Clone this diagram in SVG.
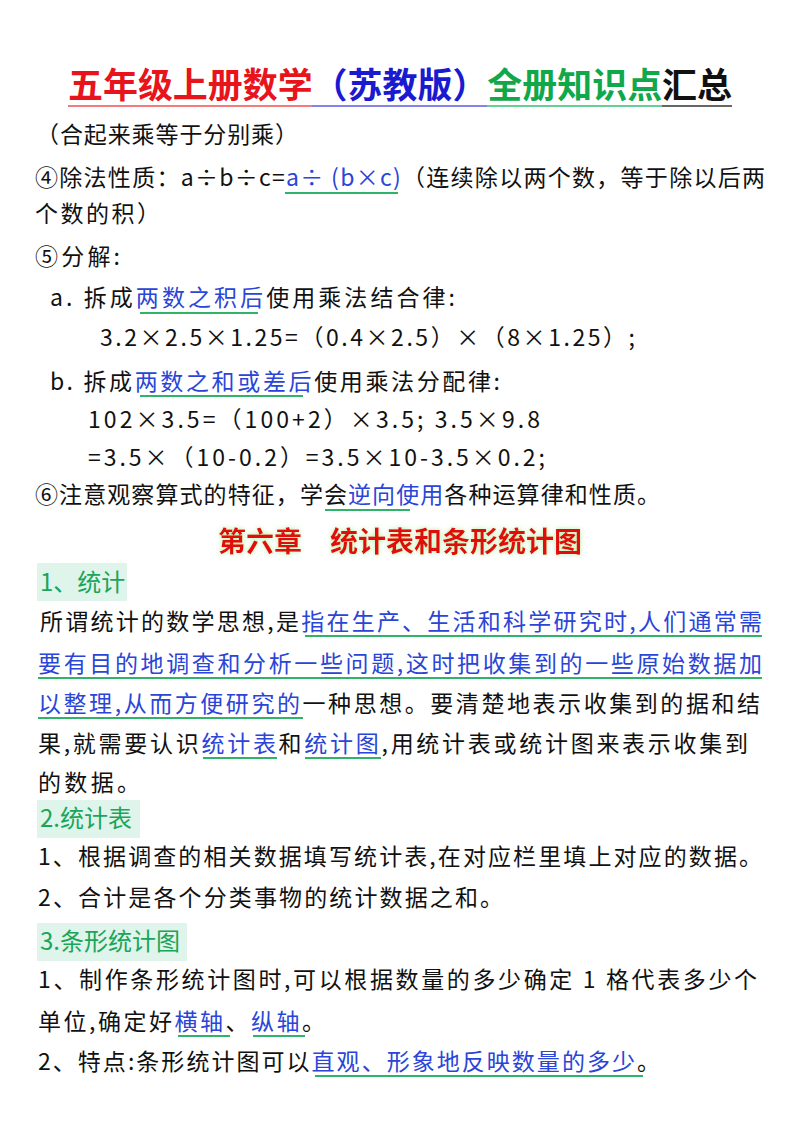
<svg xmlns="http://www.w3.org/2000/svg" width="800" height="1132" viewBox="0 0 800 1132">
<defs>
<style>
text{font-family:"Noto Sans CJK SC","Liberation Serif",serif;font-size:23px;fill:#111}
.b{fill:#2a45d8}
.u{stroke:#2fb36a;stroke-width:2}
.h{fill:#1aa55a;font-size:24px}
.hb{fill:#dff4ea}
.t{font-family:"Noto Sans CJK SC",sans-serif;font-weight:bold;font-size:35px}
</style>
<filter id="glow" x="-10%" y="-30%" width="120%" height="160%">
<feGaussianBlur in="SourceAlpha" stdDeviation="2.5" result="bl"/>
<feFlood flood-color="#9be88f" flood-opacity="0.8"/>
<feComposite in2="bl" operator="in" result="g"/>
<feMerge><feMergeNode in="g"/><feMergeNode in="SourceGraphic"/></feMerge>
</filter>
</defs>
<rect width="800" height="1132" fill="#fff"/>
<g id="title">
<text class="t" x="68" y="98" textLength="664" lengthAdjust="spacingAndGlyphs"><tspan fill="#e8141c">五年级上册数学</tspan><tspan fill="#1a1ad0">（苏教版）</tspan><tspan fill="#10a84a">全册知识点</tspan><tspan fill="#111">汇总</tspan></text>
<line x1="68" y1="106" x2="312" y2="106" stroke="#f05050" stroke-width="1.5"/>
<line x1="312" y1="106" x2="487" y2="106" stroke="#5a5ae0" stroke-width="1.5"/>
<line x1="487" y1="106" x2="662" y2="106" stroke="#30c070" stroke-width="1.5"/>
<line x1="662" y1="106" x2="732" y2="106" stroke="#333" stroke-width="1.5"/>
</g>
<g id="body1">
<text x="36" y="143" textLength="262">（合起来乘等于分别乘）</text>
<text x="35" y="186" textLength="730">④除法性质：a÷b÷c=<tspan class="b">a÷ (b×c)</tspan>（连续除以两个数，等于除以后两</text>
<line class="u" x1="285" y1="193" x2="398" y2="193"/>
<text x="35" y="222" textLength="125">个数的积）</text>
<text x="35" y="265" textLength="85">⑤分解:</text>
<text x="50" y="306" textLength="405">a. 拆成<tspan class="b">两数之积后</tspan>使用乘法结合律:</text>
<line class="u" x1="140" y1="313" x2="258" y2="313"/>
<text x="100" y="346" textLength="535">3.2×2.5×1.25=（0.4×2.5）×（8×1.25）;</text>
<text x="50" y="390" textLength="450">b. 拆成<tspan class="b">两数之和或差后</tspan>使用乘法分配律:</text>
<line class="u" x1="140" y1="396" x2="303" y2="396"/>
<text x="88" y="428" textLength="452">102×3.5=（100+2）×3.5; 3.5×9.8</text>
<text x="88" y="466" textLength="457">=3.5×（10-0.2）=3.5×10-3.5×0.2;</text>
<text x="35" y="503" textLength="625">⑥注意观察算式的特征，学会<tspan class="b">逆向使用</tspan>各种运算律和性质。</text>
<line class="u" x1="325" y1="510" x2="410" y2="510"/>
</g>
<g id="chapter" filter="url(#glow)">
<text x="400" y="552" text-anchor="middle" style="font-size:28px;font-weight:bold;fill:#e01010">第六章　统计表和条形统计图</text>
</g>
<g id="sec1">
<rect class="hb" x="37" y="563" width="90" height="38"/>
<text class="h" x="40" y="591">1、统计</text>
<text x="40" y="630" textLength="722">所谓统计的数学思想,是<tspan class="b">指在生产、生活和科学研究时,人们通常需</tspan></text>
<line class="u" x1="305" y1="636" x2="762" y2="636"/>
<text class="b" x="38" y="672" textLength="724">要有目的地调查和分析一些问题,这时把收集到的一些原始数据加</text>
<line class="u" x1="38" y1="678" x2="762" y2="678"/>
<text x="38" y="712" textLength="722"><tspan class="b">以整理,从而方便研究的</tspan>一种思想。要清楚地表示收集到的据和结</text>
<line class="u" x1="38" y1="718" x2="303" y2="718"/>
<text x="38" y="752" textLength="710">果,就需要认识<tspan class="b">统计表</tspan>和<tspan class="b">统计图</tspan>,用统计表或统计图来表示收集到</text>
<line class="u" x1="203" y1="758" x2="277" y2="758"/>
<line class="u" x1="305" y1="758" x2="381" y2="758"/>
<text x="38" y="791" textLength="102">的数据。</text>
</g>
<g id="sec2">
<rect class="hb" x="37" y="800" width="103" height="38"/>
<text class="h" x="40" y="827">2.统计表</text>
<text x="38" y="865" textLength="724">1、根据调查的相关数据填写统计表,在对应栏里填上对应的数据。</text>
<text x="38" y="906" textLength="465">2、合计是各个分类事物的统计数据之和。</text>
</g>
<g id="sec3">
<rect class="hb" x="37" y="923" width="150" height="38"/>
<text class="h" x="40" y="950">3.条形统计图</text>
<text x="38" y="988" textLength="719">1、制作条形统计图时,可以根据数量的多少确定 1 格代表多少个</text>
<text x="38" y="1030" textLength="287">单位,确定好<tspan class="b">横轴</tspan>、<tspan class="b">纵轴</tspan>。</text>
<line class="u" x1="178" y1="1036" x2="230" y2="1036"/>
<line class="u" x1="253" y1="1036" x2="305" y2="1036"/>
<text x="38" y="1070" textLength="622">2、特点:条形统计图可以<tspan class="b">直观、形象地反映数量的多少</tspan>。</text>
<line class="u" x1="315" y1="1076" x2="643" y2="1076"/>
</g>
</svg>
